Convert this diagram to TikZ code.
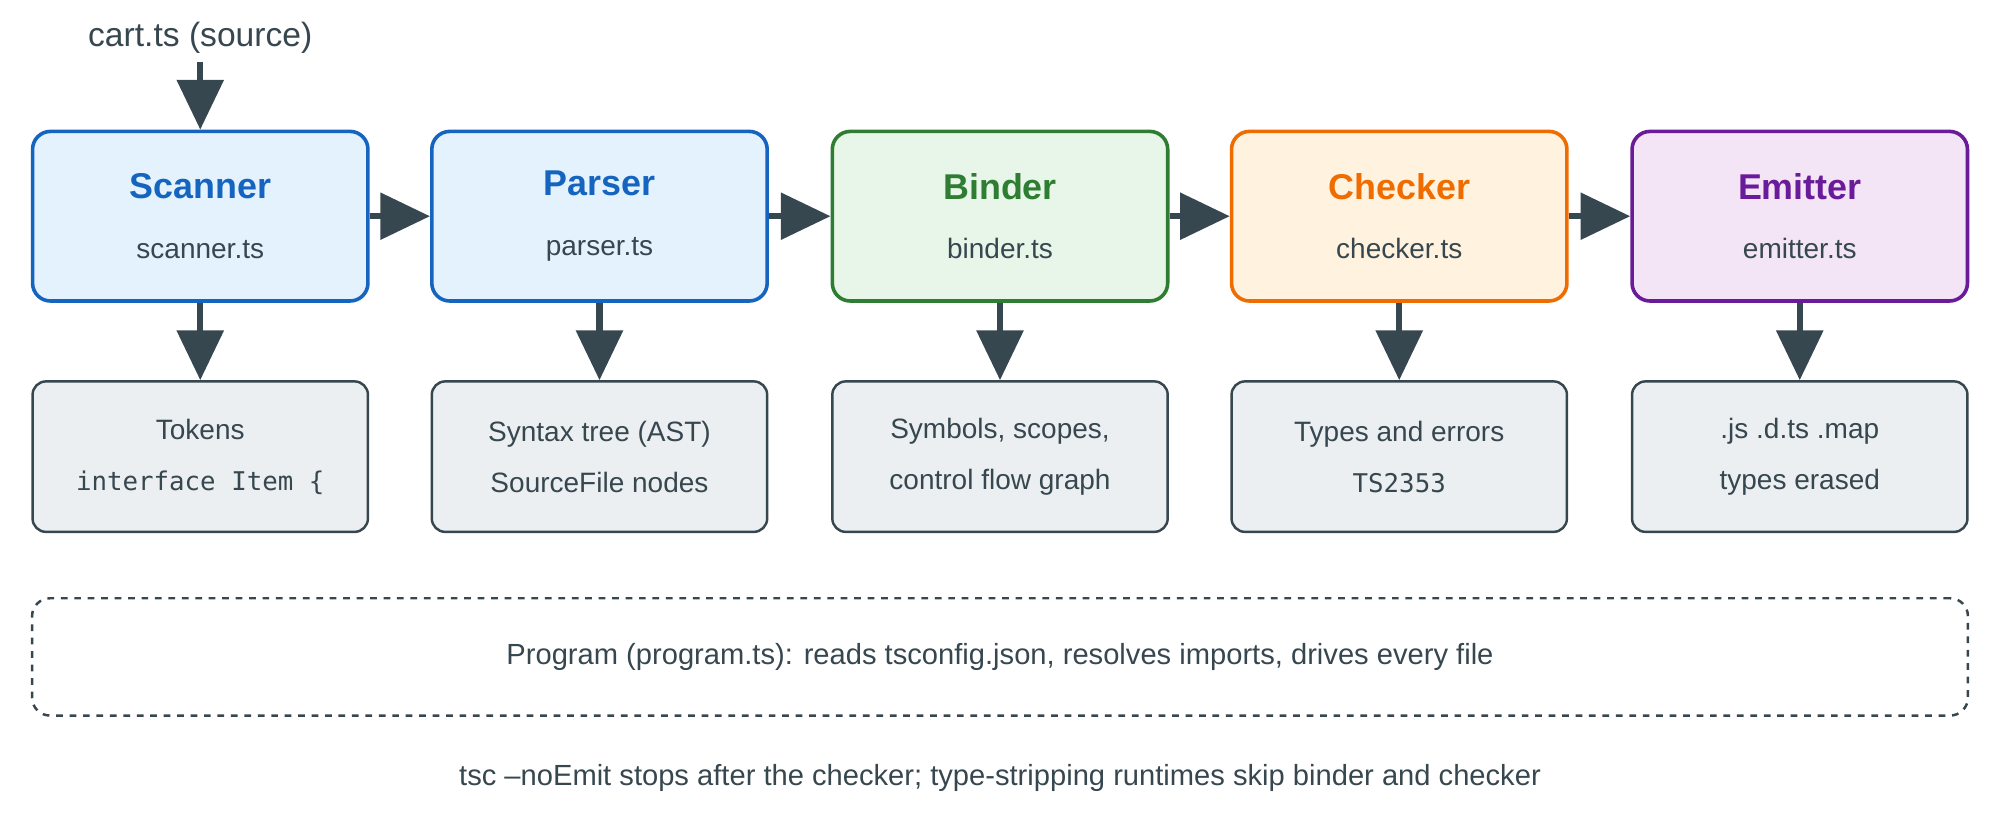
\documentclass[tikz,border=0pt]{standalone}
\usepackage{fontspec}
\setmainfont{Liberation Sans}
\setmonofont{DejaVu Sans Mono}
\usetikzlibrary{arrows.meta, positioning}

\definecolor{ink}{HTML}{37474F}
\definecolor{scan}{HTML}{1565C0}\definecolor{scanF}{HTML}{E3F2FD}
\definecolor{bind}{HTML}{2E7D32}\definecolor{bindF}{HTML}{E8F5E9}
\definecolor{check}{HTML}{EF6C00}\definecolor{checkF}{HTML}{FFF3E0}
\definecolor{emit}{HTML}{6A1B9A}\definecolor{emitF}{HTML}{F3E5F5}
\definecolor{outF}{HTML}{ECEFF1}

\tikzset{
    stage/.style={draw=#1, fill=#1F, line width=1.6pt, rounded corners=8pt,
        minimum width=5.26cm, minimum height=2.66cm, align=center, font=\fontsize{12.5}{26.7}\selectfont},
    output/.style={draw=ink, fill=outF, line width=1.1pt, rounded corners=6pt,
        minimum width=5.26cm, minimum height=2.36cm, align=center, font=\fontsize{12.5}{22.7}\selectfont, text=ink},
    flow/.style={draw=ink, line width=2.8pt, -{Triangle[length=0.78cm, width=0.72cm]}}
}

\begin{document}
\begin{tikzpicture}[x=0.02cm, y=-0.02cm]
    \useasboundingbox (0,0) rectangle (1568,653);
    \node[font=\fontsize{15}{18}\selectfont, text=ink] (src) at (157,30) {cart.ts (source)};

    % Stages and their outputs
    \foreach \i/\name/\file/\col/\x/\outa/\outb in {
        1/Scanner/scanner.ts/scan/157/Tokens/{\texttt{\fontsize{11.5}{14}\selectfont interface Item \{}},
        2/Parser/parser.ts/scan/470/Syntax tree (AST)/SourceFile nodes,
        3/Binder/binder.ts/bind/784/{Symbols, scopes,}/control flow graph,
        4/Checker/checker.ts/check/1097/Types and errors/{\texttt{\fontsize{11.5}{14}\selectfont TS2353}},
        5/Emitter/emitter.ts/emit/1411/.js .d.ts .map/types erased} {
        \node[stage=\col] (s\i) at (\x,169.5) {{\fontsize{16}{19}\selectfont\bfseries\color{\col}\name}\\{\color{ink}\file}};
        \node[output] (o\i) at (\x,358) {\outa\\\outb};
        \draw[flow] (s\i) -- (o\i);
    }
    \foreach \i/\j in {1/2, 2/3, 3/4, 4/5}
        \draw[flow] (s\i) -- (s\j);
    \draw[flow] (src) -- (s1);

    \node[draw=ink, dashed, line width=1.1pt, rounded corners=8pt, minimum width=30.36cm,
        minimum height=1.84cm, font=\fontsize{13}{16}\selectfont, text=ink] (prog) at (784,515)
        {Program (program.ts): reads tsconfig.json, resolves imports, drives every file};
    \node[font=\fontsize{13}{16}\selectfont, text=ink] (note) at (784,610)
        {tsc --noEmit stops after the checker; type-stripping runtimes skip binder and checker};
\end{tikzpicture}
\end{document}
